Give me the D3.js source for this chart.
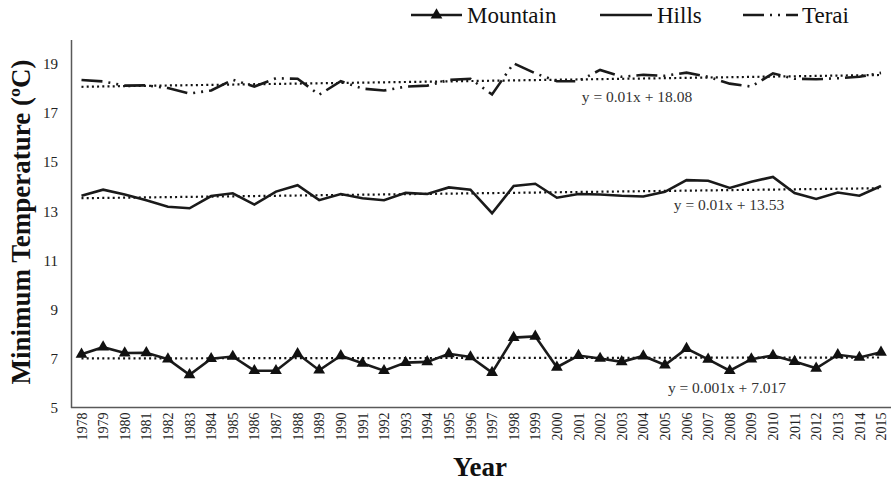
<!DOCTYPE html>
<html><head><meta charset="utf-8">
<script src="https://cdn.jsdelivr.net/npm/d3@7"></script>
<style>body{margin:0;background:#fff}</style>
</head><body>
<svg id="c" width="891" height="485"></svg>
<script>
const years = d3.range(1978, 2016).map(String);
const mountain = [7.17,7.46,7.22,7.23,6.97,6.33,6.99,7.08,6.5,6.5,7.19,6.52,7.11,6.8,6.5,6.83,6.86,7.19,7.06,6.42,7.85,7.9,6.64,7.12,7.0,6.86,7.1,6.73,7.4,6.96,6.5,6.97,7.12,6.87,6.6,7.15,7.04,7.25];
const hills = [13.63,13.88,13.68,13.45,13.18,13.12,13.62,13.73,13.27,13.8,14.06,13.45,13.7,13.53,13.45,13.75,13.7,13.97,13.88,12.92,14.03,14.12,13.55,13.7,13.68,13.63,13.6,13.79,14.27,14.24,13.95,14.2,14.4,13.74,13.5,13.76,13.63,14.03];
const terai = [18.35,18.29,18.12,18.13,18.02,17.8,17.92,18.36,18.08,18.42,18.4,17.75,18.3,18.0,17.92,18.08,18.12,18.35,18.4,17.76,19.03,18.62,18.3,18.3,18.76,18.48,18.56,18.52,18.65,18.48,18.2,18.08,18.62,18.4,18.38,18.42,18.48,18.64];
const trendSlope = [0.001, 0.011, 0.013];
const trendIntercept = [7.0, 13.52, 18.06];
const trendLabels = ["y = 0.001x + 7.017", "y = 0.01x + 13.53", "y = 0.01x + 18.08"];
const seriesNames = ["Mountain", "Hills", "Terai"];
const yTicks = [5,7,9,11,13,15,17,19];

const svg = d3.select("#c");
const font = "'Liberation Serif','Times New Roman',serif";
const x = d3.scalePoint().domain(years).range([81.5, 881]);
const y = d3.scaleLinear().domain([5, 20]).range([407.5, 39.5]);

// axes
const yAxis = svg.append("g").attr("transform","translate(71,0)")
  .call(d3.axisLeft(y).tickValues(yTicks).tickSize(0).tickPadding(13));
yAxis.select(".domain").attr("stroke","#595959").attr("stroke-width",1.5);
yAxis.selectAll("text").attr("font-family",font).attr("font-size",15).attr("fill","#222");

const xAxis = svg.append("g").attr("transform","translate(0,407.5)")
  .call(d3.axisBottom(x).tickSize(0).tickPadding(0));
xAxis.select(".domain").attr("d","M71,0H891").attr("stroke","#595959").attr("stroke-width",1.5);
xAxis.selectAll("text").attr("font-family",font).attr("font-size",14).attr("fill","#222")
  .attr("transform","rotate(-90)").attr("text-anchor","end").attr("dx","-5").attr("dy","0.33em").attr("y",0).attr("x",0);

// trend lines
[mountain, hills, terai].forEach((s,i)=>{
  const ln = d3.line().x(d=>x(d)).y((d,j)=>y(trendIntercept[i] + trendSlope[i]*(j+1)));
  svg.append("path").datum(years).attr("d", ln).attr("fill","none")
    .attr("stroke","#111").attr("stroke-width",2.2).attr("stroke-dasharray","2 3.2");
});

const line = d3.line().x((d,i)=>x(years[i])).y(d=>y(d));
svg.append("path").datum(terai).attr("d",line).attr("fill","none").attr("stroke","#1a1a1a")
  .attr("stroke-width",2.6).attr("stroke-dasharray","21 6 2 6 2 6");
svg.append("path").datum(hills).attr("d",line).attr("fill","none").attr("stroke","#1a1a1a").attr("stroke-width",2.6);
svg.append("path").datum(mountain).attr("d",line).attr("fill","none").attr("stroke","#1a1a1a").attr("stroke-width",2.6);
const tri = d3.symbol().type(d3.symbolTriangle).size(60);
svg.selectAll(".mk").data(mountain).join("path").attr("class","mk")
  .attr("d",tri).attr("transform",(d,i)=>`translate(${x(years[i])},${y(d)})`).attr("fill","#111");

// trend labels
const labPos = [[727,388],[729,205],[637,97]];
trendLabels.forEach((t,i)=>{
  svg.append("text").attr("x",labPos[i][0]).attr("y",labPos[i][1]).attr("dy","0.35em")
    .attr("text-anchor","middle").attr("font-family",font).attr("font-size",15.5).attr("fill","#333").text(t);
});

// axis titles
svg.append("text").attr("transform","translate(21,222) rotate(-90)").attr("text-anchor","middle")
  .attr("dy","0.35em").attr("font-family",font).attr("font-weight","bold").attr("font-size",27).attr("fill","#111")
  .text("Minimum Temperature (ºC)");
svg.append("text").attr("x",480).attr("y",467).attr("text-anchor","middle").attr("dy","0.35em")
  .attr("font-family",font).attr("font-weight","bold").attr("font-size",27).attr("fill","#111").text("Year");

// legend
const lg = svg.append("g");
const legY = 15;
const legItems = [{x0:411,x1:462,tx:467},{x0:600,x1:652,tx:657},{x0:743,x1:798,tx:802}];
legItems.forEach((it,i)=>{
  const p = lg.append("path").attr("d",d3.line()([[it.x0,legY],[it.x1,legY]])).attr("stroke","#1a1a1a")
    .attr("stroke-width",2.6).attr("fill","none");
  if(i===2) p.attr("stroke-dasharray","21 6 2 6 2 6");
  if(i===0) lg.append("path").attr("d",tri).attr("transform",`translate(${(it.x0+it.x1)/2},${legY})`).attr("fill","#111");
  lg.append("text").attr("x",it.tx).attr("y",legY).attr("dy","0.35em").attr("font-family",font)
    .attr("font-size",23).attr("fill","#111").text(seriesNames[i]);
});
</script>
</body></html>
